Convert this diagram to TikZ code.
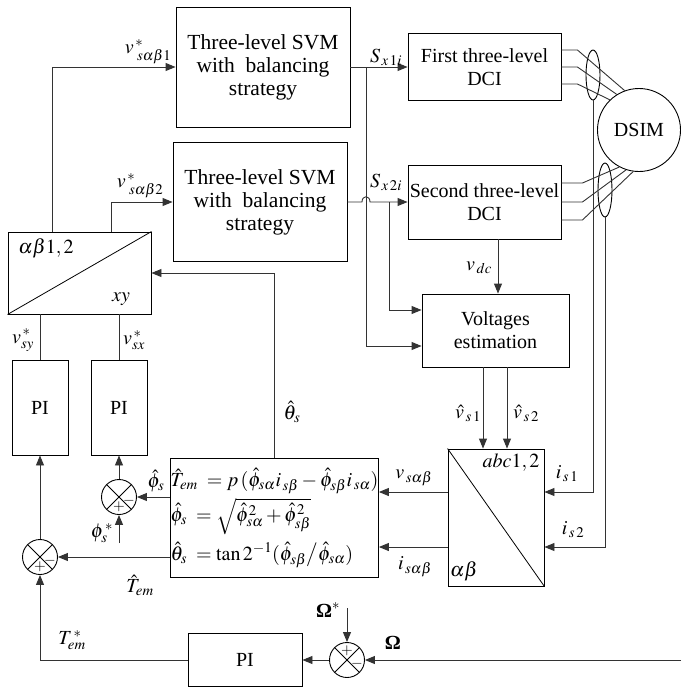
\documentclass[tikz,border=0pt]{standalone}
\usepackage{mathptmx}
\usepackage{fontspec}
\setmainfont{Liberation Serif}
\usetikzlibrary{arrows.meta,shapes.geometric,calc}

\newcommand{\bigtxt}{\fontsize{20}{23}\selectfont}
\newcommand{\svmtxt}{\fontsize{21.5}{23}\selectfont}

\begin{document}
\begin{tikzpicture}[x=1pt,y=-1pt,
  blk/.style={draw,line width=0.9pt,rectangle,inner sep=0pt,align=center,font=\bigtxt},
  wire/.style={line width=0.9pt,draw=black!80},
  arr/.style={wire,-{Triangle[length=10pt,width=8pt]}},
  lbl/.style={inner sep=0pt,font=\bigtxt},
  sumj/.style={circle,draw,line width=0.9pt,minimum size=35pt,inner sep=0pt,
    path picture={\draw[line width=0.8pt]
      (path picture bounding box.north west)--(path picture bounding box.south east)
      (path picture bounding box.north east)--(path picture bounding box.south west);}},
  sgn/.style={inner sep=0pt,font=\fontsize{15}{15}\selectfont}]

\useasboundingbox (0,0) rectangle (681,689);

% ---- blocks ----
\node[blk,font=\svmtxt,minimum width=174pt,minimum height=120pt] (svm1) at (263,67)
  {Three-level SVM\\with\ \ balancing\\strategy};
\node[blk,font=\svmtxt,minimum width=174pt,minimum height=119pt] (svm2) at (260,202)
  {Three-level SVM\\with\ \ balancing\\strategy};
\node[blk,minimum width=153pt,minimum height=67pt] (dci1) at (484.5,67)
  {First three-level\\DCI};
\node[blk,minimum width=153pt,minimum height=74pt] (dci2) at (484.5,202)
  {Second three-level\\DCI};
\node[circle,draw,line width=0.9pt,minimum size=83pt,inner sep=0pt,font=\bigtxt]
  (dsim) at (639,130) {DSIM};
\node[ellipse,draw,line width=0.9pt,minimum width=14pt,minimum height=50pt,inner sep=0pt]
  (e1) at (593,75) {};
\node[ellipse,draw,line width=0.9pt,minimum width=14pt,minimum height=54pt,inner sep=0pt]
  (e2) at (605,190) {};
\node[blk,minimum width=147pt,minimum height=73pt] (ve) at (495.5,330.5)
  {Voltages\\estimation};

% alpha-beta / xy transformation
\node[blk,minimum width=143pt,minimum height=82pt] (tr) at (79.5,273) {};
\draw[line width=0.8pt] (tr.south west) -- (tr.north east);
\node[lbl] (trA) at (46,248) {$\alpha\beta 1,2$};
\node[lbl] (trB) at (121,299) {$xy$};

% abc / alpha-beta transformation
\node[blk,minimum width=96pt,minimum height=137pt] (abc) at (496,517.5) {};
\draw[line width=0.8pt] (abc.north west) -- (abc.south east);
\node[lbl] (abcA) at (511,463) {$abc1,2$};
\node[lbl] (abcB) at (464,571) {$\alpha\beta$};

\node[blk,minimum width=56pt,minimum height=95pt] (pi1) at (40,407.5) {PI};
\node[blk,minimum width=56pt,minimum height=95pt] (pi2) at (119,407.5) {PI};
\node[blk,minimum width=114pt,minimum height=53pt] (pi3) at (245,660) {PI};

% flux and torque estimator
\node[blk,minimum width=207pt,minimum height=119pt,align=left,
      font=\fontsize{20}{34}\selectfont] (eq) at (274.5,518)
  {$\hat{T}_{em}\;=p\,(\hat{\phi}_{s\alpha}i_{\,s\beta}-\hat{\phi}_{s\beta}i_{\,s\alpha})$\\[1pt]
   $\hat{\phi}_{s}\;=\sqrt{\hat{\phi}_{s\alpha}^{2}+\hat{\phi}_{s\beta}^{2}}$\\[5pt]
   $\hat{\theta}_{s}\;=\tan 2^{-1}(\hat{\phi}_{s\beta}\big/\hat{\phi}_{s\alpha})$};

% summing junctions
\node[sumj] (s1) at (40,557) {};
\node[sumj] (s2) at (119,497) {};
\node[sumj] (s3) at (347,660) {};
\node[sgn] (s1p) at ($(s1)+(0,10)$) {$+$};
\node[sgn] (s1m) at ($(s1)+(10,4)$) {$-$};
\node[sgn] (s2p) at ($(s2)+(0,10)$) {$+$};
\node[sgn] (s2m) at ($(s2)+(10,4)$) {$-$};
\node[sgn] (s3p) at ($(s3)+(0,-9)$) {$+$};
\node[sgn] (s3m) at ($(s3)+(10,4)$) {$-$};

% ---- connectors ----
\draw[arr] ([xshift=-27.5pt]tr.north) |- (svm1.west);
\draw[arr] ([xshift=31.5pt]tr.north) |- (svm2.west);
\draw[arr] (svm1.east) -- (dci1.west);
\coordinate (b1) at (366,67);
\coordinate (hop) at (b1 |- svm2.east);
\draw[arr] (svm2.east) -- ([xshift=-4pt]hop)
  .. controls ([xshift=-4pt,yshift=7pt]hop) and ([xshift=4pt,yshift=7pt]hop) ..
  ([xshift=4pt]hop) -- (dci2.west);
\coordinate (b2) at (389,202);
\draw[arr] (b1) |- ([yshift=-15.5pt]ve.west);
\draw[arr] (b2) |- ([yshift=20.5pt]ve.west);
\draw[arr] ([xshift=13.5pt]dci2.south) -- ([xshift=2.5pt]ve.north);
\draw[arr] ([xshift=-12.5pt]ve.south) -- ([xshift=-13pt]abc.north);
\draw[arr] ([xshift=11.5pt]ve.south) -- ([xshift=11pt]abc.north);
\draw[arr] ([yshift=25.5pt]abc.west) -- (abc.west |- 0,492) -- (eq.east |- 0,492);
\draw[arr] ([yshift=-29.5pt]abc.west) -- (eq.east |- 0,547);
\draw[arr] (e1.south) |- ([yshift=25.5pt]abc.east);
\draw[arr] (e2.south) |- ([yshift=-29.5pt]abc.east);
\draw[arr] (eq.north) |- (tr.east);
\draw[wire] ([xshift=-39.5pt]tr.south) -- (pi1.north);
\draw[wire] ([xshift=39.5pt]tr.south) -- (pi2.north);
\draw[arr] (s2.north) -- (pi2.south);
\draw[arr] (eq.west |- s2) -- (s2.east);
\coordinate (phiref) at (119,543);
\draw[arr] (phiref) -- (s2.south);
\draw[arr] (s1.north) -- (pi1.south);
\draw[arr] (eq.west |- s1) -- (s1.east);
\draw[arr] (pi3.west) -| (s1.south);
\draw[arr] (s3.west) -- (pi3.east);
\coordinate (wref) at (347,608);
\draw[arr] (wref) -- (s3.north);
\coordinate (wmeas) at (681,660);
\draw[arr] (wmeas) -- (s3.east);

% stator phases to the machine
\draw[wire] ([yshift=17pt]dci1.east) -- ++(16,0) -- (dsim.110);
\draw[wire] (dci1.east) -- ++(16,0) -- (dsim.122);
\draw[wire] ([yshift=-17pt]dci1.east) -- ++(16,0) -- (dsim.134);
\draw[wire] ([yshift=19pt]dci2.east) -- ++(21,0) -- (dsim.242);
\draw[wire] (dci2.east) -- ++(21,0) -- (dsim.252);
\draw[wire] ([yshift=-18pt]dci2.east) -- ++(21,0) -- (dsim.262);

% ---- signal labels ----
\node[lbl] (lv1) at (148,52) {$v^{\,*}_{\;s\alpha\beta1}$};
\node[lbl] (lv2) at (140,186) {$v^{\,*}_{\;s\alpha\beta2}$};
\node[lbl] (ls1) at (386,57) {$S_{\,x\,1i}$};
\node[lbl] (ls2) at (386,182) {$S_{\,x\,2i}$};
\node[lbl] (lvdc) at (479,268) {$v_{\,dc}$};
\node[lbl] (lvs1) at (468,413) {$\hat{v}_{\,s\,1}$};
\node[lbl] (lvs2) at (526,413) {$\hat{v}_{\,s\,2}$};
\node[lbl] (lvab) at (414,478) {$v_{\,s\alpha\beta}$};
\node[lbl] (liab) at (415,567) {$i_{\,s\alpha\beta}$};
\node[lbl] (lis1) at (567,474) {$i_{\,s\,1}$};
\node[lbl] (lis2) at (573,530) {$i_{\,s\,2}$};
\node[lbl] (lth) at (292,412) {$\hat{\theta}_{s}$};
\node[lbl] (lvsy) at (23,340) {$v^{\,*}_{sy}$};
\node[lbl] (lvsx) at (134,340) {$v^{\,*}_{sx}$};
\node[lbl] (lphi) at (156,481) {$\hat{\phi}_{s}$};
\node[lbl] (lphir) at (102,533) {$\phi^{\,*}_{s}$};
\node[lbl] (lte) at (140,585) {$\hat{T}_{em}$};
\node[lbl] (ltr) at (72,640) {$T^{\,*}_{em}$};
\node[lbl] (lwr) at (328,610) {\textbf{Ω}$^{*}$};
\node[lbl] (lw) at (393,643) {\textbf{Ω}};

\end{tikzpicture}
\end{document}
